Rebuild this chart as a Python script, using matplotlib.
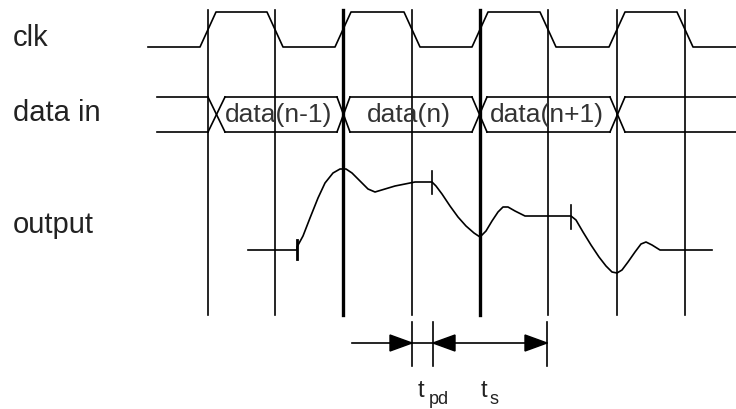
import numpy as np
import matplotlib.pyplot as plt
from matplotlib.patches import Polygon

# clock edge positions (px) and which grid lines are drawn heavy
edge_x = [208, 275, 343, 412, 480, 548, 617, 685]
heavy = [343, 480]

# clk levels
clk_hi, clk_lo = 12, 47
clk_start, clk_end = 148, 736

# data in bus
bus_top, bus_bot = 97, 132
bus_start, bus_end = 157, 736
bus_cross = [(208, 225), (337, 350), (472, 487), (610, 625)]
bus_labels = ['data(n-1)', 'data(n)', 'data(n+1)']
bus_label_x = [225, 367, 490]

# output waveform points
out_x = [248, 297, 297, 303, 310, 318, 325, 333, 340, 346, 352, 360, 368, 375, 385,
         395, 405, 415, 432, 436, 442, 450, 458, 466, 474, 480, 486, 492, 498, 503,
         508, 515, 525, 571, 576, 583, 591, 599, 606, 612, 617, 622, 628, 635, 641,
         646, 652, 660, 712]
out_y = [250, 250, 247, 236, 218, 198, 183, 173, 169, 169, 173, 181, 189, 192, 189,
         186, 184, 182, 182, 186, 194, 206, 217, 226, 233, 237, 231, 221, 212, 207,
         207, 211, 216, 216, 220, 232, 245, 257, 266, 272, 273, 270, 262, 252, 244,
         242, 245, 250, 250]
out_ticks = [(297, 240, 259), (432, 171, 194), (571, 205, 229)]

# timing arrows
arrow_y = 343
tpd_x = (412, 433)
ts_x = (433, 547)

fig = plt.figure(figsize=(7.36, 4.09), dpi=100)
ax = fig.add_axes([0, 0, 1, 1])
ax.set_xlim(0, 736)
ax.set_ylim(409, 0)
ax.axis('off')

k = 'black'
lw = 1.2

# grid lines
for x in edge_x:
    ax.plot([x, x], [10, 315], color=k, lw=2.4 if x in heavy else lw)

# clk
cx = [clk_start]
cy = [clk_lo]
level = clk_lo
for x in edge_x:
    nxt = clk_hi if level == clk_lo else clk_lo
    cx += [x - 8, x + 8]
    cy += [level, nxt]
    level = nxt
cx.append(clk_end)
cy.append(level)
ax.plot(cx, cy, color=k, lw=lw)

# data in bus
for a, b in bus_cross:
    ax.plot([a, b], [bus_top, bus_bot], color=k, lw=lw)
    ax.plot([a, b], [bus_bot, bus_top], color=k, lw=lw)
for i in range(len(bus_cross) + 1):
    x0 = bus_start if i == 0 else bus_cross[i - 1][1]
    x1 = bus_end if i == len(bus_cross) else bus_cross[i][0]
    ax.plot([x0, x1], [bus_top, bus_top], color=k, lw=lw)
    ax.plot([x0, x1], [bus_bot, bus_bot], color=k, lw=lw)
for s, x in zip(bus_labels, bus_label_x):
    ax.text(x, 115, s, fontsize=19, family='Liberation Sans', color='#333333',
            va='center', ha='left')

# output
ax.plot(out_x, out_y, color=k, lw=lw)
for x, y0, y1 in out_ticks:
    ax.plot([x, x], [y0, y1], color=k, lw=2.0 if x == 297 else 1.2)

# row labels
for s, y in [('clk', 38), ('data in', 113), ('output', 225)]:
    ax.text(13, y, s, fontsize=21, family='Liberation Sans', color='#222222',
            va='center', ha='left')

# timing marks
for x in [412, 433, 547]:
    ax.plot([x, x], [322, 366], color=k, lw=lw)
ax.plot([352, 547], [arrow_y, arrow_y], color=k, lw=lw)


def head(tip, direction):
    base = tip - direction * 22
    ax.add_patch(Polygon([(tip, arrow_y), (base, arrow_y - 8), (base, arrow_y + 8)],
                         closed=True, color=k))


head(tpd_x[0], 1)
head(tpd_x[1], -1)
head(ts_x[1], 1)

ax.text(418, 391, 't', fontsize=17, family='Liberation Sans', color='#222222',
        va='center', ha='left')
ax.text(429, 399, 'pd', fontsize=13, family='Liberation Sans', color='#222222',
        va='center', ha='left')
ax.text(481, 391, 't', fontsize=17, family='Liberation Sans', color='#222222',
        va='center', ha='left')
ax.text(490, 399, 's', fontsize=13, family='Liberation Sans', color='#222222',
        va='center', ha='left')

fig.savefig('out.png', dpi=100)
